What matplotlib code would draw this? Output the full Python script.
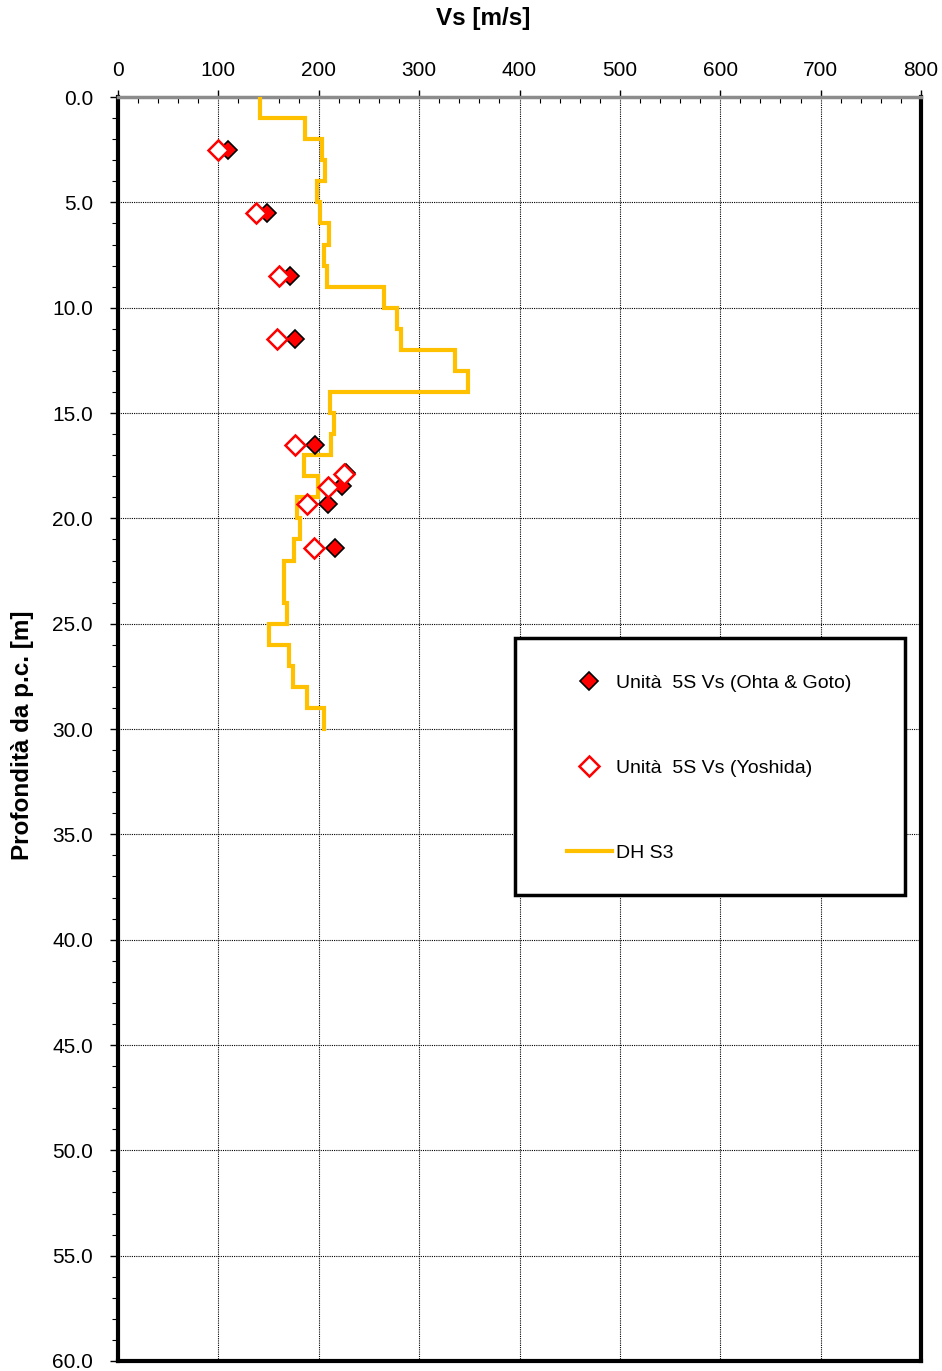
import numpy as np
import matplotlib.pyplot as plt
from matplotlib.patches import Rectangle
from matplotlib.ticker import MultipleLocator, FormatStrFormatter

plt.rcParams['font.family'] = ['Liberation Sans', 'DejaVu Sans']

# profilo DH S3: strati (da, a) e Vs
layer_top = [0, 1, 2, 3, 4, 5, 6, 7, 8, 9, 10, 11, 12, 13, 14, 15, 16, 17, 18, 19,
             20, 21, 22, 24, 25, 26, 27, 28, 29]
layer_bot = [1, 2, 3, 4, 5, 6, 7, 8, 9, 10, 11, 12, 13, 14, 15, 16, 17, 18, 19, 20,
             21, 22, 24, 25, 26, 27, 28, 29, 30]
layer_vs = [141, 186, 203, 206, 198, 201, 210, 205, 208, 265, 278, 282, 336, 349, 211,
            215, 212, 185, 199, 178, 181, 175, 165, 168, 150, 170, 174, 188, 205]

# Unità 5S - Ohta & Goto
ohta_depth = [2.5, 5.5, 8.5, 11.5, 16.5, 17.85, 18.45, 19.3, 21.4]
ohta_vs = [110, 148, 171, 176, 196, 227, 223, 209, 216]

# Unità 5S - Yoshida
yosh_depth = [2.5, 5.5, 8.5, 11.5, 16.5, 17.9, 18.5, 19.3, 21.4]
yosh_vs = [100, 137, 160, 158, 176, 225, 209, 188, 195]

fig = plt.figure(figsize=(9.42, 13.71), dpi=100)
ax = fig.add_axes([0.1253, 0.0073, 0.8524, 0.9219])

# costruzione linea a gradini
x_step, y_step = [], []
for t, b, v in zip(layer_top, layer_bot, layer_vs):
    x_step += [v, v]
    y_step += [t, b]

ax.plot(ohta_vs, ohta_depth, linestyle='none', marker='D', markersize=9.5,
        markerfacecolor='red', markeredgecolor='black', markeredgewidth=1.2,
        label='Unità  5S Vs (Ohta & Goto)', zorder=4)
ax.plot(yosh_vs, yosh_depth, linestyle='none', marker='D', markersize=10.5,
        markerfacecolor='white', markeredgecolor='red', markeredgewidth=1.8,
        label='Unità  5S Vs (Yoshida)', zorder=5)
ax.plot(x_step, y_step, color='#FFC000', linewidth=3, solid_joinstyle='miter',
        label='DH S3', zorder=3)

ax.set_xlim(0, 800)
ax.set_ylim(60, 0)
ax.xaxis.set_major_locator(MultipleLocator(100))
ax.xaxis.set_minor_locator(MultipleLocator(20))
ax.yaxis.set_major_locator(MultipleLocator(5))
ax.yaxis.set_minor_locator(MultipleLocator(1))
ax.yaxis.set_major_formatter(FormatStrFormatter('%.1f'))

ax.xaxis.tick_top()
ax.xaxis.set_label_position('top')
ax.tick_params(axis='x', which='major', direction='out', length=5, width=1,
               labelsize=15, pad=7, colors='black')
ax.tick_params(axis='x', which='minor', direction='in', length=4, width=0.8)
ax.tick_params(axis='y', which='major', direction='out', length=6, width=1,
               labelsize=15, pad=12)
ax.tick_params(axis='y', which='minor', direction='out', length=4, width=0.8)

ax.grid(True, which='major', color='black', linestyle=(0, (1, 1)), linewidth=0.8)
ax.set_axisbelow(True)

for s in ['left', 'bottom', 'right']:
    ax.spines[s].set_linewidth(3)
    ax.spines[s].set_color('black')
ax.spines['top'].set_linewidth(2.5)
ax.spines['top'].set_color('#8c8c8c')

ax.set_xlabel('Vs [m/s]', fontsize=17.5, fontweight='bold', va='center')
ax.xaxis.set_label_coords((483 - 118) / 803, (1361 - 18) / 1264)
ax.set_ylabel('Profondità da p.c. [m]', fontsize=17.5, fontweight='bold', va='center')
ax.yaxis.set_label_coords((22 - 118) / 803, (1361 - 735) / 1264)

# riquadro legenda
ax.add_patch(Rectangle((0.494, 0.3687), 0.486, 0.2033, transform=ax.transAxes,
                       facecolor='white', edgecolor='black', linewidth=2.5, zorder=6))
leg = ax.legend(loc='center left', bbox_to_anchor=((567 - 118) / 803, (1361 - 768) / 1264),
                frameon=False, fontsize=14, borderpad=0, labelspacing=3.48,
                handlelength=2.3, handletextpad=0.2, borderaxespad=0)
leg.set_zorder(7)

fig.savefig('out.png', dpi=100)
